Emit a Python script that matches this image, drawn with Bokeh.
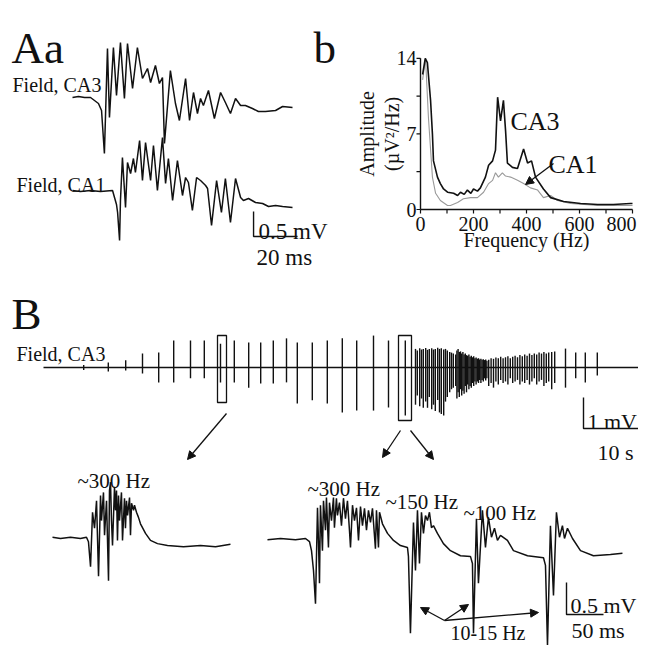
import math
from bokeh.plotting import figure
from bokeh.models import Range1d, Arrow, NormalHead
from bokeh.core.properties import value
from bokeh.embed import file_html
from bokeh.resources import INLINE

# ---------------- data ----------------
# Panel Aa: field potentials (time in ms, voltage in mV)
CA3_T = [0, 2.7, 5.5, 8.2, 10.0, 11.8, 13.2, 14.5, 15.9, 16.8, 18.6, 20.0, 21.8, 23.6, 25.0,
         27.3, 29.5, 31.8, 34.1, 35.5, 37.7, 39.5, 40.9, 41.8, 44.5, 46.8, 48.6, 51.4, 53.2,
         55.0, 56.8, 58.2, 59.5, 61.8, 64.5, 67.3, 69.5, 71.8, 74.1, 76.4, 78.6, 81.8, 84.5,
         87.7, 92.3, 95.5, 100.0]
CA3_V = [0, 0.02, 0, 0, -0.06, -0.12, -0.26, -1.12, 0.98, -0.40, 1.00, 0.04, 1.10, -0.02, 1.08,
         0.18, 1.00, 0.38, 0.58, 0.30, 0.64, 0.28, 0.40, -0.92, 0.54, -0.12, -0.46, 0.38, -0.46,
         0.10, -0.32, -0.02, -0.16, 0.14, -0.42, 0.10, -0.10, -0.32, -0.02, -0.16, -0.16, -0.22,
         -0.28, -0.28, -0.26, -0.18, -0.20]
CA1_T = [0, 3.6, 8.2, 12.7, 18.2, 19.1, 20.0, 20.5, 21.4, 21.8, 22.7, 24.1, 25.0, 26.4, 27.7,
         28.6, 30.5, 31.8, 33.2, 35.5, 36.8, 38.6, 40.9, 42.3, 43.6, 45.5, 47.7, 50.0, 51.4,
         52.7, 54.5, 56.4, 58.2, 60.5, 61.4, 63.2, 65.5, 67.7, 69.5, 71.8, 74.1, 76.4, 77.7,
         80.0, 83.2, 86.4, 89.1, 92.3, 95.5, 100.0]
CA1_V = [0, -0.02, 0, -0.02, 0, -0.14, -0.28, -0.44, -1.00, -0.20, 0.66, -0.34, 0.56, 0.34, 0.64,
         0.36, 1.00, 0.20, 0.96, 0.20, 0.90, 0.00, 1.06, 0.14, 0.64, -0.20, 0.60, -0.10, 0.26,
         0.16, -0.40, 0.26, 0.20, 0.10, 0.04, -0.70, 0.20, -0.44, 0.24, -0.64, 0.24, -0.14, -0.20,
         -0.16, -0.24, -0.26, -0.32, -0.30, -0.32, -0.34]

# Panel b: amplitude spectra (Hz, uV^2/Hz)
SPEC_F_CA3 = [8, 18, 26, 38, 45, 49, 64, 75, 87, 102, 125, 140, 151, 165, 177, 190, 200, 215, 226,
              245, 257, 272, 283, 291, 302, 313, 321, 328, 347, 366, 389, 404, 419, 434, 464, 491,
              540, 604, 668, 728, 792, 800]
SPEC_A_CA3 = [12.5, 14.0, 13.6, 10.1, 7.0, 4.5, 3.0, 2.4, 1.9, 1.6, 1.5, 1.3, 1.6, 1.4, 1.8, 1.5,
              1.9, 1.7, 2.0, 3.0, 4.1, 4.5, 5.5, 10.4, 8.2, 10.1, 7.3, 4.3, 3.9, 3.8, 5.6, 4.3, 4.5,
              3.0, 1.9, 1.1, 0.74, 0.56, 0.46, 0.46, 0.56, 0.56]
SPEC_F_CA1 = [8, 19, 30, 45, 57, 75, 102, 113, 140, 162, 189, 215, 238, 257, 272, 283, 294, 309,
              321, 340, 366, 389, 415, 442, 464, 491, 517, 566, 668, 792, 800]
SPEC_A_CA1 = [12.0, 14.0, 8.5, 3.0, 1.5, 0.83, 0.37, 0.37, 0.65, 1.0, 1.1, 1.1, 1.6, 2.4, 2.7, 3.4,
              3.0, 3.4, 3.1, 3.0, 2.7, 2.4, 2.0, 1.8, 1.1, 1.3, 0.83, 0.56, 0.37, 0.37, 0.37]
B_XTICK_LABELS = [0, 200, 400, 600]
B_XTICK_LAST = 800
B_XTICKS = [0, 100, 200, 300, 400, 500, 600, 700, 800]
B_YTICK_LABELS = [0, 7, 14]
B_YTICKS = [0, 3.5, 7, 10.5, 14]

# Panel B: long CA3 recording (time in s, spike peak / trough in mV)
L_DURATION = 101.5
EARLY_T = [6.7, 10.8, 13.7, 16.5, 19.2, 21.7, 24.5, 26.8, 29.5, 31.8, 34.2, 36.2, 38.3, 40.5, 42.3,
           44.8, 47.3, 49.8, 52.2, 55.0, 57.5, 60.3]
EARLY_UP = [0.08, 0.16, 0.23, 0.45, 0.48, 0.87, 0.87, 0.87, 0.77, 0.87, 0.81, 0.81, 0.87, 0.94, 0.81,
            0.81, 0.87, 0.94, 0.87, 1.03, 0.87, 0.87]
EARLY_DN = [-0.08, -0.13, -0.10, -0.19, -0.48, -0.48, -0.35, -0.35, -0.48, -0.48, -0.65, -0.52, -0.52,
            -0.48, -1.16, -1.06, -1.16, -1.45, -1.39, -1.39, -1.29, -1.55]
BURST_T = [62.0, 62.3, 62.7, 63.0, 63.3, 63.7, 64.0, 64.3, 64.7, 65.0, 65.3, 65.7, 66.0, 66.3, 66.7,
           67.0, 67.3, 67.7, 68.0, 68.3, 68.7]
BURST_UP = [0.6, 0.55, 0.62, 0.58, 0.6, 0.63, 0.57, 0.6, 0.62, 0.58, 0.6, 0.64, 0.6, 0.62, 0.58, 0.6,
            0.55, 0.5, 0.48, 0.45, 0.42]
BURST_DN = [-1.2, -0.9, -1.25, -1.0, -1.3, -1.1, -1.3, -0.95, -1.35, -1.2, -1.4, -1.05, -1.45, -1.5,
            -1.55, -1.1, -0.95, -0.8, -0.7, -0.65, -0.6]
DENSE_T = [68.9, 69.1, 69.3, 69.5, 69.7, 69.9, 70.1, 70.3, 70.5, 70.7, 70.9, 71.1, 71.3, 71.5, 71.7,
           71.9, 72.1, 72.3, 72.5, 72.7, 72.9, 73.1, 73.3, 73.5, 73.7, 73.9]
DENSE_UP = [0.55, 0.6, 0.5, 0.52, 0.45, 0.5, 0.42, 0.45, 0.4, 0.38, 0.42, 0.35, 0.38, 0.33, 0.36, 0.3,
            0.32, 0.28, 0.3, 0.26, 0.28, 0.25, 0.27, 0.24, 0.26, 0.22]
DENSE_DN = [-1.0, -0.8, -0.95, -0.7, -0.9, -0.75, -0.85, -0.6, -0.8, -0.55, -0.7, -0.6, -0.65, -0.5,
            -0.6, -0.45, -0.55, -0.45, -0.5, -0.4, -0.5, -0.4, -0.45, -0.35, -0.42, -0.35]
LATE_T = [74.2, 74.6, 75.0, 75.4, 75.8, 76.2, 76.6, 77.0, 77.4, 77.8, 78.2, 78.6, 79.0, 79.4, 79.8,
          80.2, 80.6, 81.0, 81.4, 81.8, 82.2, 82.6, 83.0, 83.4, 83.8, 84.2, 84.7, 85.2]
LATE_UP = [0.25, 0.3, 0.28, 0.32, 0.3, 0.35, 0.3, 0.33, 0.36, 0.3, 0.35, 0.38, 0.33, 0.4, 0.36, 0.42,
           0.38, 0.45, 0.4, 0.45, 0.42, 0.48, 0.45, 0.5, 0.45, 0.48, 0.5, 0.52]
LATE_DN = [-0.6, -0.5, -0.65, -0.45, -0.55, -0.4, -0.5, -0.45, -0.55, -0.35, -0.5, -0.45, -0.4, -0.55,
           -0.45, -0.5, -0.4, -0.55, -0.45, -0.35, -0.55, -0.45, -0.4, -0.6, -0.5, -0.45, -0.7, -0.5]
TAIL_T = [87.0, 88.7, 90.3, 92.3]
TAIL_UP = [0.61, 0.48, 0.48, 0.48]
TAIL_DN = [-0.65, -0.35, -0.48, -0.26]

# Panel B insets (time in ms, mV)
IN1_T = [0, 10.8, 24.3, 37.8, 45.9, 48.6, 51.4, 54.1, 56.8, 59.5, 62.2, 64.9, 66.2, 68.9, 70.3,
         73.0, 75.7, 77.0, 78.4, 79.7, 81.1, 83.8, 85.1, 86.5, 87.8, 89.2, 90.5, 93.2, 94.6, 97.3,
         98.6, 100.0, 101.4, 104.1, 105.4, 106.8, 109.5, 110.8, 113.5, 116.2, 118.9, 125.7, 132.4,
         141.9, 155.4, 177.0, 200.0, 220.3, 240.5]
IN1_V = [0.02, 0, 0.02, 0, 0.02, -0.05, -0.44, 0.41, 0.16, 0.59, -0.59, 0.67, 0.28, 0.72, 0.05,
         0.59, -0.66, 0.75, 0.88, 0.28, -0.11, 0.81, 0.44, 0.75, -0.03, 0.67, 0.28, 0.72, -0.03,
         0.63, 0.16, 0.59, 0.36, 0.64, 0.05, 0.55, 0.44, 0.52, 0.41, 0.33, 0.23, 0.08, -0.03,
         -0.08, -0.11, -0.13, -0.11, -0.13, -0.09]
IN2_T = [0, 17.6, 37.8, 51.4, 56.8, 59.5, 62.2, 64.9, 67.6, 68.9,
         70.3, 71.6, 74.3, 75.7, 78.4, 79.7, 82.4, 83.8, 86.5, 89.2,
         90.5, 93.2, 94.6, 97.3, 100.0, 102.7, 105.4, 108.1, 110.8, 112.2,
         114.9, 117.6, 120.3, 123.0, 125.7, 128.4, 131.1, 133.8, 136.5, 139.2,
         141.9, 145.9, 147.3, 150.0, 151.4, 155.4, 162.2, 170.3, 179.7, 189.2,
         190.5, 193.2, 197.3, 200.0, 202.7, 205.4, 208.1, 210.8, 213.5, 216.2,
         218.9, 221.6, 224.3, 229.7, 237.8, 247.3, 260.8, 274.3, 277.0, 278.4,
         282.4, 285.1, 290.5, 294.6, 298.6, 302.7, 306.8, 310.8, 314.9, 324.3,
         332.4, 351.4, 373.0, 375.7, 378.4, 382.4, 386.5, 390.5, 394.6, 398.6,
         401.4, 405.4, 412.2, 423.0, 440.5, 463.5, 479.7]
IN2_V = [-0.02, 0, -0.02, 0, -0.05, -0.19, -0.50, -1.02, 0.48, -0.03,
         -0.70, 0.52, -0.19, 0.59, 0.13, 0.64, -0.14, 0.56, 0.28, 0.64,
         0.17, 0.63, 0.36, 0.56, 0.20, 0.63, 0.31, 0.59, 0.13, -0.14,
         0.52, 0.28, 0.48, -0.03, 0.50, 0.20, 0.47, 0.13, 0.44, 0.25,
         0.47, -0.16, 0.44, -0.14, 0.41, 0.23, 0.08, -0.03, -0.11, -0.14,
         -0.28, -1.48, 0.25, -0.50, 0.44, -0.39, 0.41, 0.08, 0.36, 0.28,
         0.41, 0.17, 0.20, 0.08, -0.08, -0.19, -0.27, -0.28, -0.39, -1.48,
         0.31, -0.70, 0.44, -0.14, 0.33, 0.02, 0.16, -0.03, 0.05, -0.03,
         -0.19, -0.27, -0.30, -0.42, -1.67, 0.20, -0.89, 0.41, 0.02, 0.20,
         0, 0.16, 0, -0.19, -0.27, -0.25, -0.23]

# ---------------- layout / style ----------------
W, H = 638, 645
INK = "#111111"
FONT = value("Liberation Serif")
CA1_OFFSET_MV = -1.86       # vertical offset of CA1 trace in panel Aa
IN2_START_MS = 290.5        # horizontal position of second inset

p = figure(width=W, height=H, output_backend="svg", toolbar_location=None,
           x_range=Range1d(0, W), y_range=Range1d(H, 0),
           x_axis_location=None, y_axis_location=None, min_border=0,
           background_fill_color="white", border_fill_color="white")
p.outline_line_color = None
p.xgrid.visible = False
p.ygrid.visible = False


def x_map(d_at, px_at, ppu):
    return Range1d(d_at - px_at / ppu, d_at + (W - px_at) / ppu)


def y_map(d_at, py_at, ppu):
    return Range1d(d_at - (H - py_at) / ppu, d_at + py_at / ppu)


A_PPU_MS, A_PPU_MV = 2.2, 50.0
B_PPU_HZ, B_PPU_A = 0.265, 10.8
L_PPU_S, L_PPU_MV = 6.0, 31.0
I_PPU_MS, I_PPU_MV = 0.74, 64.0

p.extra_x_ranges = {"a_t": x_map(0, 72, A_PPU_MS), "b_f": x_map(0, 420, B_PPU_HZ),
                    "l_t": x_map(0, 43, L_PPU_S), "i_t": x_map(0, 52, I_PPU_MS)}
p.extra_y_ranges = {"a_v": y_map(0, 97, A_PPU_MV), "b_a": y_map(0, 209, B_PPU_A),
                    "l_v": y_map(0, 367, L_PPU_MV), "i_v": y_map(0, 538, I_PPU_MV)}


def txt(xs, ys, texts, size, align="left", baseline="alphabetic", **kw):
    p.text(x=xs, y=ys, text=texts, text_font=FONT, text_font_size=size, text_color=INK,
           text_align=align, text_baseline=baseline, **kw)


def scalebar(xr, yr, x, y, dx, dy):
    p.line([x, x, x + dx], [y + dy, y, y], x_range_name=xr, y_range_name=yr,
           line_color=INK, line_width=1.4)


# ---- Panel Aa ----
p.line(CA3_T, CA3_V, x_range_name="a_t", y_range_name="a_v", line_color=INK, line_width=1.5)
p.line(CA1_T, [v + CA1_OFFSET_MV for v in CA1_V], x_range_name="a_t", y_range_name="a_v",
       line_color=INK, line_width=1.5)
scalebar("a_t", "a_v", 82.3, -2.78, 20, 0.5)

# ---- Panel b ----
p.line(SPEC_F_CA1, SPEC_A_CA1, x_range_name="b_f", y_range_name="b_a", line_color="#999999", line_width=1.1)
p.line(SPEC_F_CA3, SPEC_A_CA3, x_range_name="b_f", y_range_name="b_a", line_color=INK, line_width=1.6)
p.line([0, 800], [0, 0], x_range_name="b_f", y_range_name="b_a", line_color=INK, line_width=1.4)
p.line([0, 0], [0, 14], x_range_name="b_f", y_range_name="b_a", line_color=INK, line_width=1.4)
TICK = 4.0
p.segment(x0=B_XTICKS, y0=[0] * len(B_XTICKS), x1=B_XTICKS, y1=[-TICK / B_PPU_A] * len(B_XTICKS),
          x_range_name="b_f", y_range_name="b_a", line_color=INK, line_width=1.2)
p.segment(x0=[0] * len(B_YTICKS), y0=B_YTICKS, x1=[-TICK / B_PPU_HZ] * len(B_YTICKS), y1=B_YTICKS,
          x_range_name="b_f", y_range_name="b_a", line_color=INK, line_width=1.2)
txt(B_XTICK_LABELS, [0] * len(B_XTICK_LABELS), [str(v) for v in B_XTICK_LABELS], "20px",
    align="center", baseline="middle", y_offset=14, x_range_name="b_f", y_range_name="b_a")
txt([B_XTICK_LAST], [0], [str(B_XTICK_LAST)], "20px", align="right", baseline="middle",
    y_offset=14, x_offset=4, x_range_name="b_f", y_range_name="b_a")
txt([0] * len(B_YTICK_LABELS), B_YTICK_LABELS, [str(v) for v in B_YTICK_LABELS], "20px",
    align="right", baseline="middle", x_offset=-4, x_range_name="b_f", y_range_name="b_a")
txt([400], [0], ["Frequency (Hz)"], "20px", align="center", baseline="middle", y_offset=30,
    x_range_name="b_f", y_range_name="b_a")
txt([0, 0], [7, 7], ["Amplitude", "(\u00b5V\u00b2/Hz)"], "20px", align="center", baseline="middle",
    angle=math.pi / 2, x_offset=[-54, -29], x_range_name="b_f", y_range_name="b_a")

# ---- Panel B: long trace ----
p.line([0, L_DURATION], [0, 0], x_range_name="l_t", y_range_name="l_v", line_color=INK, line_width=1.6)
SP_T = EARLY_T + BURST_T + DENSE_T + LATE_T + TAIL_T
SP_UP = EARLY_UP + BURST_UP + DENSE_UP + LATE_UP + TAIL_UP
SP_DN = EARLY_DN + BURST_DN + DENSE_DN + LATE_DN + TAIL_DN
p.segment(x0=SP_T, y0=SP_UP, x1=SP_T, y1=SP_DN, x_range_name="l_t", y_range_name="l_v",
          line_color=INK, line_width=1.4)
scalebar("l_t", "l_v", 90.0, -1.97, 10, 1.0)

# ---- Panel B: insets ----
p.line(IN1_T, IN1_V, x_range_name="i_t", y_range_name="i_v", line_color=INK, line_width=1.5)
p.line([t + IN2_START_MS for t in IN2_T], IN2_V, x_range_name="i_t", y_range_name="i_v",
       line_color=INK, line_width=1.5)
scalebar("i_t", "i_v", 694.6, -1.1875, 50, 0.5)

# boxes around expanded events
p.quad(left=[217, 398], right=[226, 411], top=[335, 335], bottom=[402, 420],
       fill_alpha=0, line_color=INK, line_width=1.3)

# arrows
ARROWS = [(226, 413, 187, 459), (400, 430, 382, 457), (410, 430, 433, 459),
          (553, 163, 525, 184), (444, 620, 420, 607), (444, 620, 468, 604), (444, 620, 538, 612)]
for x0, y0, x1, y1 in ARROWS:
    p.add_layout(Arrow(x_start=x0, y_start=y0, x_end=x1, y_end=y1, line_color=INK, line_width=1.3,
                       end=NormalHead(size=8, fill_color=INK, line_color=INK, line_width=1)))

# ---- texts ----
txt([11, 313, 11], [47, 47, 313], ["Aa", "b", "B"], "45px")
txt([12, 16, 16], [84, 184, 353], ["Field, CA3", "Field, CA1", "Field, CA3"], "20px")
txt([258, 256], [231, 257], ["0.5 mV", "20 ms"], "23px")
txt([587, 597, 570, 571], [421, 452, 605, 630], ["1 mV", "10 s", "0.5 mV", "50 ms"], "22px")
txt([510, 548], [121, 164], ["CA3", "CA1"], "26px")
txt([77, 307, 385, 463], [480, 488, 501, 512], ["~300 Hz", "~300 Hz", "~150 Hz", "~100 Hz"], "21px")
txt([450], [632], ["10-15 Hz"], "20px")

open("out.html", "w").write(file_html(p, INLINE))
